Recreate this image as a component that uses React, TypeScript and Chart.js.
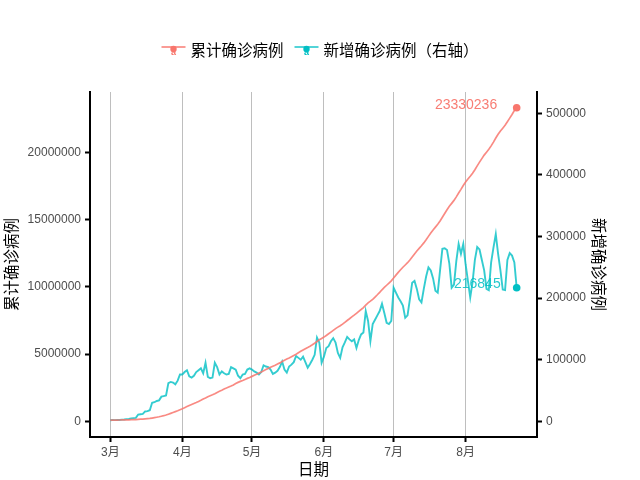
import React, { useEffect, useRef } from 'react';
import { Chart, registerables } from 'chart.js';

Chart.register(...registerables);

// Day index 0 = 3月1日 ... 175 = 8月23日
const CUMULATIVE: number[] = [
  // March
  88000, 90300, 92800, 95100, 97800, 101800, 105800, 109800, 113600, 118600,
  125900, 128400, 145200, 156100, 167400, 181500, 197100, 214900, 242700, 272200,
  304500, 336900, 378300, 418000, 467600, 529600, 593300, 660700, 720100, 782400,
  857500,
  // April
  932600, 1013300, 1095000, 1175800, 1249700, 1321400, 1396100, 1475700, 1558700, 1654200,
  1734900, 1835000, 1905200, 1975600, 2056100, 2152400, 2240200, 2317300, 2401400, 2472300,
  2549300, 2624500, 2708400, 2811200, 2896700, 2971500, 3041700, 3116400, 3193900, 3256800,
  // May
  3343800, 3427300, 3506700, 3583000, 3662700, 3755300, 3845700, 3938000, 4024000, 4101700,
  4177500, 4261700, 4347000, 4442100, 4542300, 4634000, 4713600, 4801900, 4897500, 4996400,
  5102400, 5210800, 5308400, 5406500, 5495100, 5589600, 5693300, 5812000, 5935100, 6061700,
  6165600,
  // June
  6265800, 6385600, 6508900, 6636200, 6766100, 6897900, 7006200, 7109800, 7230600, 7363100,
  7500600, 7629300, 7764400, 7896000, 8036100, 8177200, 8316600, 8463900, 8648700, 8805600,
  8935400, 9077600, 9245300, 9413300, 9590700, 9785000, 9957400, 10122000, 10285000, 10450000,
  // July
  10667000, 10876000, 11077000, 11272000, 11460000, 11628000, 11800000, 11998000, 12223000, 12451000,
  12666000, 12864000, 13057000, 13272000, 13507000, 13757000, 14002000, 14234000, 14446000, 14655000,
  14900000, 15180000, 15461000, 15739000, 15995000, 16212000, 16434000, 16694000, 16982000, 17254000,
  17542000,
  // August
  17800000, 18028000, 18229000, 18455000, 18717000, 19000000, 19279000, 19541000, 19803000, 20018000,
  20231000, 20489000, 20771000, 21075000, 21347000, 21592000, 21806000, 22019000, 22281000, 22554000,
  22823000, 23113000, 23330236,
];

const NEW_CASES: number[] = [
  // March
  1800, 2100, 1900, 2400, 2200, 2800, 2900, 3500, 3800, 4800,
  5200, 5600, 11000, 11500, 12000, 16000, 16500, 18000, 30000, 31000,
  33000, 34000, 40000, 41000, 42000, 62000, 64000, 63000, 60000, 66000,
  76000,
  // April
  76000, 80000, 83000, 73000, 71000, 74000, 80000, 83000, 86000, 78000,
  95000, 72000, 70000, 71000, 95000, 88000, 76000, 81000, 78000, 76000,
  77000, 88000, 86000, 84000, 74000, 70000, 76000, 77000, 84000, 86000,
  // May
  84000, 81000, 79000, 76000, 80000, 91000, 89000, 88000, 84000, 77000,
  79000, 82000, 88000, 97000, 84000, 79000, 89000, 92000, 96000, 106000,
  103000, 100000, 105000, 96000, 87000, 93000, 100000, 108000, 136000, 128000,
  95000,
  // June
  105000, 119000, 122000, 130000, 135000, 128000, 111000, 103000, 120000, 128000,
  137000, 133000, 130000, 133000, 119000, 132000, 141000, 144000, 179000, 163000,
  130000, 158000, 165000, 172000, 179000, 191000, 176000, 160000, 158000, 163000,
  // July
  217000, 209000, 201000, 195000, 188000, 168000, 172000, 198000, 225000, 228000,
  215000, 198000, 193000, 215000, 235000, 250000, 245000, 232000, 212000, 209000,
  245000, 280000, 281000, 278000, 256000, 217000, 222000, 260000, 288000, 272000,
  288000,
  // August
  255000, 228000, 201000, 226000, 262000, 283000, 279000, 262000, 245000, 215000,
  213000, 258000, 282000, 304000, 272000, 245000, 214000, 213000, 262000, 273000,
  269000, 258000, 216845,
];

const MONTH_TICKS: number[] = [0, 31, 61, 92, 122, 153];
const MONTH_LABELS: string[] = ['3月', '4月', '5月', '6月', '7月', '8月'];
const LEFT_TICKS: number[] = [0, 5000000, 10000000, 15000000, 20000000];
const RIGHT_TICKS: number[] = [0, 100000, 200000, 300000, 400000, 500000];

const SERIES_NAMES = ['累计确诊病例', '新增确诊病例（右轴）'];
const X_TITLE = '日期';
const Y_TITLE = '累计确诊病例';
const Y2_TITLE = '新增确诊病例';

const RED = '#F8766D';
const TEAL = '#00BFC4';
const RED_LINE = 'rgba(248,118,109,0.85)';
const TEAL_LINE = 'rgba(0,191,196,0.8)';
const NUM_FONT = '"Liberation Sans", "Noto Sans CJK SC", sans-serif';
const CJK_FONT = '"Noto Sans CJK SC", "Liberation Sans", sans-serif';

export default function App() {
  const ref = useRef<HTMLCanvasElement | null>(null);

  useEffect(() => {
    if (!ref.current) return;
    const last = CUMULATIVE.length - 1;
    const nDays = CUMULATIVE.length - 1;
    const xPad = nDays * 0.05;
    const leftMax = CUMULATIVE[last];
    const lMin = -leftMax * 0.05;
    const lMax = leftMax * 1.05;
    const ratio = 45.82;

    const overlay = {
      id: 'overlay',
      afterDatasetsDraw(chart: any) {
        const ctx = chart.ctx;
        ctx.save();
        ctx.font = `14px ${NUM_FONT}`;
        ctx.textAlign = 'right';
        ctx.textBaseline = 'middle';
        const p0 = chart.getDatasetMeta(0).data[last];
        ctx.fillStyle = 'rgba(248,118,109,0.95)';
        ctx.fillText(String(CUMULATIVE[last]), p0.x - 19.5, p0.y - 3);
        const p1 = chart.getDatasetMeta(1).data[last];
        ctx.fillStyle = 'rgba(0,191,196,0.85)';
        ctx.fillText(String(NEW_CASES[last]), p1.x - 16, p1.y - 4);
        ctx.restore();
      },
      afterDraw(chart: any) {
        const ctx = chart.ctx;
        ctx.save();
        ctx.font = `15.5px ${CJK_FONT}`;
        const keyW = 24, keyGap = 5, itemGap = 11;
        const widths = SERIES_NAMES.map((s) => ctx.measureText(s).width);
        const total = widths.reduce((a, b) => a + b, 0) + SERIES_NAMES.length * (keyW + keyGap) + itemGap;
        let x = 320 - total / 2;
        const cy = 50;
        const cols = [RED, TEAL];
        const lineCols = [RED_LINE, TEAL_LINE];
        SERIES_NAMES.forEach((s, i) => {
          ctx.strokeStyle = lineCols[i];
          ctx.lineWidth = 1.7;
          ctx.beginPath();
          ctx.moveTo(x, cy - 3);
          ctx.lineTo(x + keyW, cy - 3);
          ctx.stroke();
          ctx.fillStyle = cols[i];
          ctx.beginPath();
          ctx.arc(x + keyW / 2, cy - 1, 3.2, 0, Math.PI * 2);
          ctx.fill();
          ctx.font = `bold 9px ${NUM_FONT}`;
          ctx.textAlign = 'center';
          ctx.textBaseline = 'middle';
          ctx.fillText('a', x + keyW / 2, cy + 3);
          ctx.font = `15.5px ${CJK_FONT}`;
          ctx.textAlign = 'left';
          ctx.fillStyle = '#000';
          ctx.fillText(s, x + keyW + keyGap, cy);
          x += keyW + keyGap + widths[i] + itemGap;
        });
        ctx.restore();
      },
    };

    const tickFont = { family: NUM_FONT, size: 12 };
    const titleFont = { family: CJK_FONT, size: 15.5 };

    const chart = new Chart(ref.current, {
      type: 'line',
      data: {
        datasets: [
          {
            label: SERIES_NAMES[0],
            data: CUMULATIVE.map((v, i) => ({ x: i, y: v })),
            yAxisID: 'y',
            borderColor: RED_LINE,
            borderWidth: 1.7,
            pointRadius: (c: any) => (c.dataIndex === last ? 3.8 : 0),
            pointBackgroundColor: RED,
            pointBorderWidth: 0,
            tension: 0,
          },
          {
            label: SERIES_NAMES[1],
            data: NEW_CASES.map((v, i) => ({ x: i, y: v })),
            yAxisID: 'y2',
            borderColor: TEAL_LINE,
            borderWidth: 1.9,
            pointRadius: (c: any) => (c.dataIndex === last ? 3.8 : 0),
            pointBackgroundColor: TEAL,
            pointBorderWidth: 0,
            tension: 0,
          },
        ],
      },
      options: {
        animation: false,
        responsive: false,
        devicePixelRatio: 1,
        layout: { padding: { top: 92, left: 0, right: 0, bottom: 0 } },
        plugins: { legend: { display: false }, tooltip: { enabled: false } },
        scales: {
          x: {
            type: 'linear',
            min: -xPad,
            max: nDays + xPad,
            afterBuildTicks: (s: any) => {
              s.ticks = MONTH_TICKS.map((v) => ({ value: v }));
            },
            afterFit: (s: any) => {
              s.height = 43;
            },
            ticks: {
              callback: (_v: any, i: number) => MONTH_LABELS[i],
              color: '#4D4D4D',
              font: tickFont,
              padding: 3,
              maxRotation: 0,
              autoSkip: false,
            },
            grid: { color: '#BEBEBE', lineWidth: 1, tickColor: '#000', tickLength: 5, tickWidth: 2 },
            border: { display: true, color: '#000', width: 2 },
            title: { display: true, text: X_TITLE, color: '#000', font: titleFont, padding: { top: 0, bottom: 1.5 } },
          },
          y: {
            type: 'linear',
            position: 'left',
            min: lMin,
            max: lMax,
            afterBuildTicks: (s: any) => {
              s.ticks = LEFT_TICKS.map((v) => ({ value: v }));
            },
            afterFit: (s: any) => {
              s.width = 90;
            },
            ticks: { callback: (v: any) => String(v), color: '#4D4D4D', font: tickFont, padding: 4 },
            grid: { drawOnChartArea: false, tickColor: '#000', tickLength: 5, tickWidth: 2 },
            border: { display: true, color: '#000', width: 2 },
            title: { display: true, text: Y_TITLE, color: '#000', font: titleFont, padding: { top: 1.5, bottom: 0 } },
          },
          y2: {
            type: 'linear',
            position: 'right',
            min: lMin / ratio,
            max: lMax / ratio,
            afterBuildTicks: (s: any) => {
              s.ticks = RIGHT_TICKS.map((v) => ({ value: v }));
            },
            afterFit: (s: any) => {
              s.width = 103;
            },
            ticks: { callback: (v: any) => String(v), color: '#4D4D4D', font: tickFont, padding: 4 },
            grid: { drawOnChartArea: false, tickColor: '#000', tickLength: 5, tickWidth: 2 },
            border: { display: true, color: '#000', width: 2 },
            title: { display: true, text: Y2_TITLE, color: '#000', font: titleFont, padding: { top: 32, bottom: 0 } },
          },
        },
      },
      plugins: [overlay],
    } as any);

    return () => chart.destroy();
  }, []);

  return (
    <div style={{ position: 'fixed', left: 0, top: 0, width: 640, height: 480, background: '#fff' }}>
      <canvas ref={ref} width={640} height={480} style={{ display: 'block', width: 640, height: 480 }} />
    </div>
  );
}
